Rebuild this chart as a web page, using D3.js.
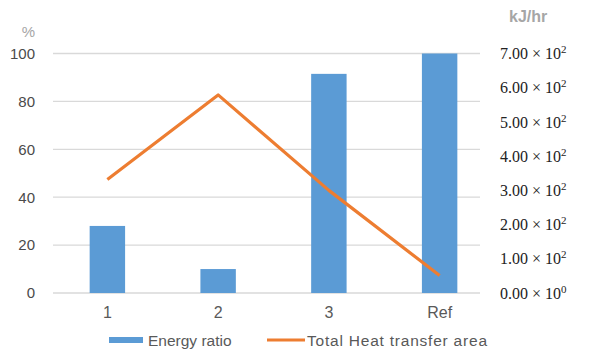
<!DOCTYPE html>
<html><head><meta charset="utf-8">
<script src="https://cdn.jsdelivr.net/npm/d3@7"></script>
<style>body{margin:0;background:#fff}</style>
</head><body>
<svg id="c" width="589" height="353"></svg>
<script>
const categories = ["1","2","3","Ref"];
const energyRatio = [28, 10, 91.5, 100];
const heatArea = [332, 579, 300, 51];
const leftTicks = [0,20,40,60,80,100];
const rightTicks = [0,100,200,300,400,500,600,700];

(function(){
const svg = d3.select("#c");
const plotTop = 53.5, plotBottom = 293;
const x = d3.scaleBand().domain(categories).range([52, 495]).paddingInner(0.68).paddingOuter(0.34);
const xc = d => x(d) + x.bandwidth()/2;
const yL = d3.scaleLinear().domain([0,100]).range([plotBottom, plotTop]);
const yR = d3.scaleLinear().domain([0,700]).range([plotBottom, plotTop]);

// gridlines
svg.append("g").selectAll("line").data(leftTicks).join("line")
  .attr("x1",53).attr("x2",480).attr("y1",d=>yL(d)).attr("y2",d=>yL(d))
  .attr("stroke","#d9d9d9").attr("stroke-width",1.3);

// left axis labels
const gl = svg.append("g").attr("transform","translate(35,0)")
  .call(d3.axisLeft(yL).tickValues(leftTicks).tickSize(0).tickPadding(0));
gl.select(".domain").remove();
gl.selectAll("text").attr("font-family","Liberation Sans, Arial").attr("font-size",15).attr("fill","#4a4a4a");

// bars
svg.append("g").selectAll("rect").data(energyRatio).join("rect")
  .attr("x",(d,i)=>x(categories[i])).attr("width",x.bandwidth())
  .attr("y",d=>yL(d)).attr("height",d=>plotBottom-yL(d)).attr("fill","#5b9bd5");

// line
svg.append("path").datum(heatArea)
  .attr("d", d3.line().x((d,i)=>xc(categories[i])).y(d=>yR(d)))
  .attr("fill","none").attr("stroke","#ed7d31").attr("stroke-width",3.2).attr("stroke-linejoin","round");

// x axis labels
const gx = svg.append("g").attr("transform",`translate(0,${plotBottom+14})`)
  .call(d3.axisBottom(x).tickSize(0).tickPadding(0));
gx.select(".domain").remove();
gx.selectAll("text").attr("font-family","Liberation Sans, Arial").attr("font-size",16).attr("fill","#595959");

// right axis labels
const gr = svg.append("g").attr("transform","translate(500,0)")
  .call(d3.axisRight(yR).tickValues(rightTicks).tickSize(0).tickPadding(0));
gr.select(".domain").remove();
gr.selectAll("text").attr("font-family","Liberation Serif, serif").attr("font-size",16).attr("fill","#222")
  .each(function(v){
    const e = v===0?0:Math.floor(Math.log10(v));
    const m = v/Math.pow(10,e);
    const t = d3.select(this).text(null);
    t.append("tspan").text(m.toFixed(2)+" \u00d7 10");
    t.append("tspan").attr("font-size",11).attr("dy","-0.55em").text(e);
  });

// unit labels
svg.append("text").attr("x",35).attr("y",37).attr("text-anchor","end")
  .attr("font-family","Liberation Sans, Arial").attr("font-size",15).attr("fill","#a6a6a6").text("%");
svg.append("text").attr("x",509).attr("y",22)
  .attr("font-family","Liberation Sans, Arial").attr("font-size",16).attr("font-weight","bold").attr("fill","#a6a6a6").text("kJ/hr");

// legend
const lg = svg.append("g");
lg.append("rect").attr("x",109).attr("y",337).attr("width",34).attr("height",6).attr("fill","#5b9bd5");
lg.append("text").attr("x",148).attr("y",346).attr("font-family","Liberation Sans, Arial").attr("font-size",15.5).attr("fill","#595959").text("Energy ratio");
lg.append("line").attr("x1",267).attr("x2",305).attr("y1",340).attr("y2",340).attr("stroke","#ed7d31").attr("stroke-width",3.2);
lg.append("text").attr("x",307).attr("y",346).attr("font-family","Liberation Sans, Arial").attr("font-size",15.5).attr("fill","#595959")
  .attr("textLength",180).attr("lengthAdjust","spacing").text("Total  Heat transfer area");
})();
</script>
</body></html>
